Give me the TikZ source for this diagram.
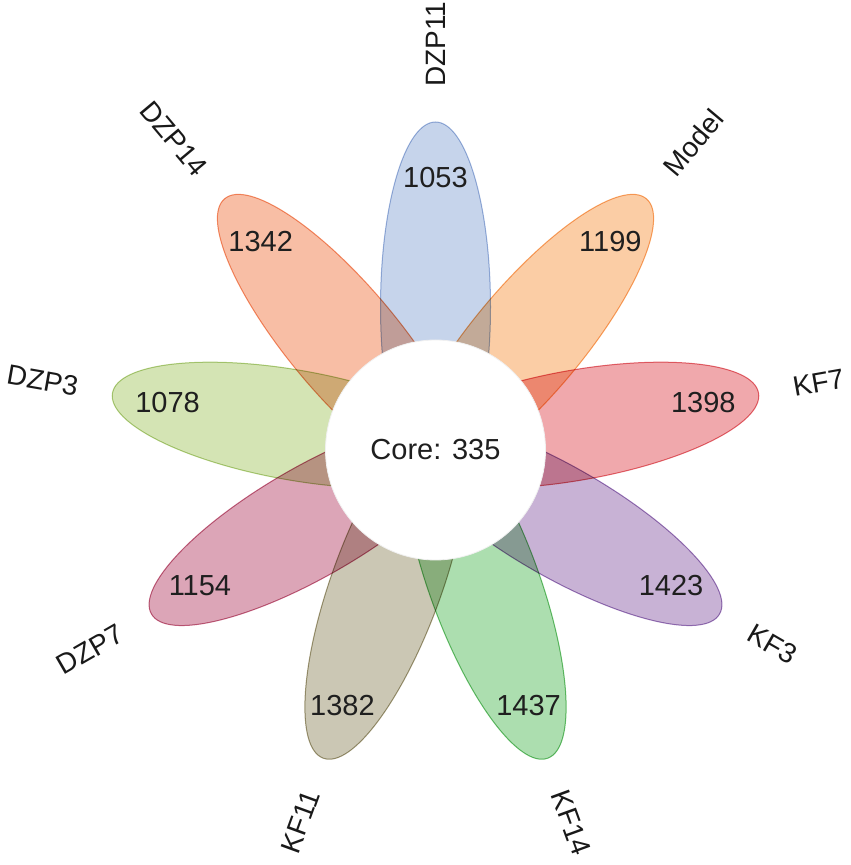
\documentclass[tikz,border=0pt]{standalone}
\usepackage{fontspec}
\setmainfont{Liberation Sans}
\usetikzlibrary{shapes.geometric,calc}
\definecolor{fBlue}{RGB}{198,212,235}
\definecolor{dBlue}{RGB}{160,182,222}
\definecolor{fModel}{RGB}{251,205,165}
\definecolor{dModel}{RGB}{248,170,105}
\definecolor{fRed}{RGB}{240,168,172}
\definecolor{dRed}{RGB}{230,110,118}
\definecolor{fPurple}{RGB}{200,178,213}
\definecolor{dPurple}{RGB}{160,125,190}
\definecolor{fGreen}{RGB}{172,222,175}
\definecolor{dGreen}{RGB}{110,196,115}
\definecolor{fKhaki}{RGB}{203,199,180}
\definecolor{dKhaki}{RGB}{165,158,125}
\definecolor{fRose}{RGB}{220,165,183}
\definecolor{dRose}{RGB}{200,105,135}
\definecolor{fLime}{RGB}{212,228,180}
\definecolor{dLime}{RGB}{180,208,130}
\definecolor{fSalmon}{RGB}{248,190,165}
\definecolor{dSalmon}{RGB}{244,150,110}
\begin{document}
\begin{tikzpicture}[x=1pt,y=1pt,
  petal/.style={ellipse, inner sep=0pt, outer sep=0pt, minimum width=370pt, minimum height=110pt, line width=1pt},
  num/.style={font=\fontsize{29}{34}\selectfont, text=black!88, inner sep=0pt},
  lab/.style={font=\fontsize{28}{33}\selectfont, text=black!90, inner sep=0pt},
  labR/.style={lab, anchor=west, rotate=#1},
  labL/.style={lab, anchor=east, rotate=#1}]
\fill[white] (0,0) rectangle (851,865);
\useasboundingbox (0,0) rectangle (851,865);
\coordinate (C) at (435.5,415);
\begin{scope}[blend mode=multiply]
  \node[petal, fill=fBlue,   draw=dBlue,   rotate=90]   (pDZPxi)  at ([shift={(90:143)}]C) {};
  \node[petal, fill=fModel,  draw=dModel,  rotate=50]   (pModel)  at ([shift={(50:143)}]C) {};
  \node[petal, fill=fRed,    draw=dRed,    rotate=10]   (pKFvii)  at ([shift={(10:143)}]C) {};
  \node[petal, fill=fPurple, draw=dPurple, rotate=-30]  (pKFiii)  at ([shift={(-30:143)}]C) {};
  \node[petal, fill=fGreen,  draw=dGreen,  rotate=-70]  (pKFxiv)  at ([shift={(-70:143)}]C) {};
  \node[petal, fill=fKhaki,  draw=dKhaki,  rotate=-110] (pKFxi)   at ([shift={(-110:143)}]C) {};
  \node[petal, fill=fRose,   draw=dRose,   rotate=-150] (pDZPvii) at ([shift={(-150:143)}]C) {};
  \node[petal, fill=fLime,   draw=dLime,   rotate=170]  (pDZPiii) at ([shift={(170:143)}]C) {};
  \node[petal, fill=fSalmon, draw=dSalmon, rotate=130]  (pDZPxiv) at ([shift={(130:143)}]C) {};
\end{scope}
\node[circle, fill=white, draw=black!6, line width=0.8pt, minimum size=220pt, inner sep=0pt,
      font=\fontsize{29}{34}\selectfont, text=black!88] (core) at (C) {Core: 335};
% numbers
\node[num] (nDZPxi)  at ([shift={(90:272)}]C) {1053};
\node[num] (nModel)  at ([shift={(50:272)}]C) {1199};
\node[num] (nKFvii)  at ([shift={(10:272)}]C) {1398};
\node[num] (nKFiii)  at ([shift={(-30:272)}]C) {1423};
\node[num] (nKFxiv)  at ([shift={(-70:272)}]C) {1437};
\node[num] (nKFxi)   at ([shift={(-110:272)}]C) {1382};
\node[num] (nDZPvii) at ([shift={(-150:272)}]C) {1154};
\node[num] (nDZPiii) at ([shift={(170:272)}]C) {1078};
\node[num] (nDZPxiv) at ([shift={(130:272)}]C) {1342};
% set labels
\node[labR=90]  (lDZPxi)  at ([shift={(90:363)}]C) {DZP11};
\node[labR=50]  (lModel)  at ([shift={(50:363)}]C) {Model};
\node[labR=10]  (lKFvii)  at ([shift={(10:363)}]C) {KF7};
\node[labR=-30] (lKFiii)  at ([shift={(-30:363)}]C) {KF3};
\node[labR=-70] (lKFxiv)  at ([shift={(-70:363)}]C) {KF14};
\node[labL=70]  (lKFxi)   at ([shift={(-110:363)}]C) {KF11};
\node[labL=30]  (lDZPvii) at ([shift={(-150:363)}]C) {DZP7};
\node[labL=-10] (lDZPiii) at ([shift={(170:363)}]C) {DZP3};
\node[labL=-50] (lDZPxiv) at ([shift={(130:363)}]C) {DZP14};
\end{tikzpicture}
\end{document}
